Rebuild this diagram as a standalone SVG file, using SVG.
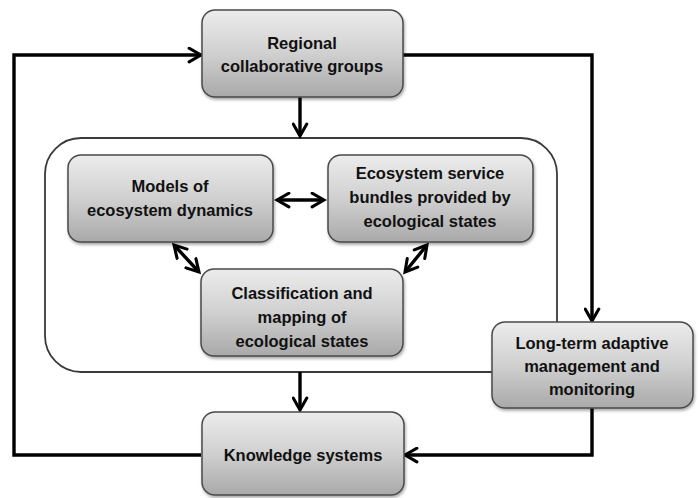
<svg xmlns="http://www.w3.org/2000/svg" width="699" height="498" viewBox="0 0 699 498">
<defs>
<linearGradient id="g" x1="0" y1="0" x2="0" y2="1">
<stop offset="0" stop-color="#ececec"/>
<stop offset="0.5" stop-color="#d0d0d0"/>
<stop offset="1" stop-color="#a9a9a9"/>
</linearGradient>
<filter id="sh" x="-10%" y="-10%" width="120%" height="130%">
<feDropShadow dx="1" dy="2" stdDeviation="1.5" flood-color="#000" flood-opacity="0.35"/>
</filter>
<marker id="ah" viewBox="0 0 10 10" refX="8" refY="5" markerWidth="5" markerHeight="5" orient="auto-start-reverse" markerUnits="strokeWidth">
<path d="M1,1 L8,5 L1,9" fill="none" stroke="#000" stroke-width="1.8" stroke-linecap="round" stroke-linejoin="miter"/>
</marker>
</defs>
<style>
.box{fill:url(#g);stroke:#4a4a4a;stroke-width:1.5;filter:url(#sh)}
.t{font-family:"Liberation Sans",Arial,sans-serif;font-weight:bold;font-size:16.5px;fill:#111;text-anchor:middle}
.c{fill:none;stroke:#000;stroke-width:3.4}
.ca{fill:none;stroke:#000;stroke-width:3.4;marker-end:url(#ah)}
.cb{fill:none;stroke:#000;stroke-width:3.4;marker-end:url(#ah);marker-start:url(#ah)}
</style>
<rect width="699" height="498" fill="#fff"/>
<g id="container">
<rect x="45" y="138" width="512" height="234" rx="36" fill="none" stroke="#3a3a3a" stroke-width="1.8"/>
</g>
<g id="connectors">
<path class="ca" d="M201,455 H14 V55 H201"/>
<path class="ca" d="M403,55 H592 V321"/>
<path class="ca" d="M592,408 V455 H405"/>
<path class="ca" d="M300,97 V136"/>
<path class="ca" d="M300,372 V410"/>
<path class="cb" d="M277,200 H324"/>
<path class="cb" d="M174,245 L199,272"/>
<path class="cb" d="M427,245 L405,272"/>
</g>
<g id="regional">
<rect class="box" x="202" y="10" width="201" height="87" rx="13"/>
<text class="t" x="302" y="49">Regional</text>
<text class="t" x="302" y="72">collaborative groups</text>
</g>
<g id="models">
<rect class="box" x="68" y="155" width="205" height="87" rx="13"/>
<text class="t" x="170" y="192">Models of</text>
<text class="t" x="170" y="216">ecosystem dynamics</text>
</g>
<g id="services">
<rect class="box" x="328" y="155" width="205" height="87" rx="13"/>
<text class="t" x="430" y="179">Ecosystem service</text>
<text class="t" x="430" y="203">bundles provided by</text>
<text class="t" x="430" y="227">ecological states</text>
</g>
<g id="classification">
<rect class="box" x="201" y="269" width="202" height="87" rx="13"/>
<text class="t" x="302" y="299">Classification and</text>
<text class="t" x="302" y="323">mapping of</text>
<text class="t" x="302" y="347">ecological states</text>
</g>
<g id="longterm">
<rect class="box" x="492" y="322" width="201" height="86" rx="13"/>
<text class="t" x="592" y="349">Long-term adaptive</text>
<text class="t" x="592" y="372">management and</text>
<text class="t" x="592" y="395">monitoring</text>
</g>
<g id="knowledge">
<rect class="box" x="202" y="412" width="202" height="83" rx="13"/>
<text class="t" x="303" y="461">Knowledge systems</text>
</g>
</svg>
